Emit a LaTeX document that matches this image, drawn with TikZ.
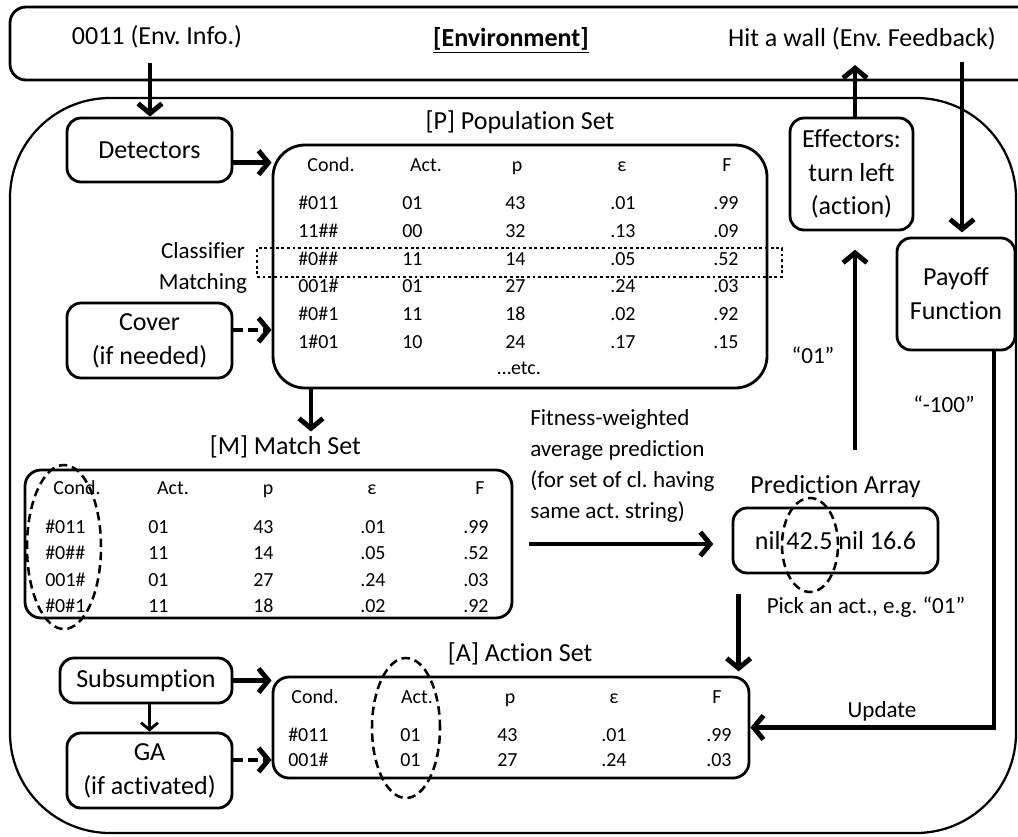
\documentclass[tikz,border=0pt]{standalone}
\usepackage{fontspec}
\setmainfont{Carlito}[Ligatures=NoCommon]
\usetikzlibrary{positioning,arrows.meta,shapes.geometric}
\frenchspacing
\def\px{0.025cm}
\newcommand\bigtxt{\fontsize{18.5pt}{24pt}\selectfont}
\newcommand\midtxt{\fontsize{16.4pt}{22pt}\selectfont}
\newcommand\tabtxt{\fontsize{14.2pt}{17pt}\selectfont}

\begin{document}
\begin{tikzpicture}[x=\px,y=-\px,font=\bigtxt,
	box/.style={draw=black,line width=2pt,rounded corners=0.35cm,align=center,inner sep=0pt,font=\bigtxt},
	tbl/.style={draw=black,line width=2pt,rounded corners=0.4cm,inner sep=0pt},
	lbl/.style={inner sep=0pt,text height=13pt,text depth=4pt},
	cell/.style={anchor=base west,inner sep=0pt,font=\tabtxt},
	hd/.style={anchor=base,inner sep=0pt,font=\tabtxt},
	note/.style={inner sep=0pt,font=\midtxt},
	flow/.style={line width=3.5pt,-{Straight Barb[length=7pt,width=17pt]}},
	maybe/.style={flow,dash pattern=on 7pt off 3.5pt},
	slim/.style={line width=2pt,-{Straight Barb[length=5pt,width=12pt]}},
	ring/.style={ellipse,draw=black,line width=1.8pt,dash pattern=on 6pt off 3.5pt,inner sep=0pt}]
	\fill[white] (0,0) rectangle (1018,836);
	\useasboundingbox (0,0) rectangle (1018,836);

	% environment and agent
	\node [box,rounded corners=0.4cm,minimum width=1030*\px,minimum height=73*\px] (env) at (525,43.5) {};
	\node [anchor=base] (env_info) at (157,44) {0011 (Env. Info.)};
	\node [anchor=base] (env_name) at (511,46) {\underline{\textbf{[Environment]}}};
	\node [anchor=base] (env_fb) at (862,46) {Hit a wall (Env. Feedback)};
	\node [draw=black,line width=1.6pt,rounded corners=2.5cm,minimum width=1006*\px,minimum height=735*\px,inner sep=0pt] (agent) at (513,465.5) {};

	\node [box,minimum width=165*\px,minimum height=64*\px] (det) at (149.5,150) {Detectors};
	\node [box,minimum width=165*\px,minimum height=75*\px] (cover) at (149.5,340.5) {Cover\\(if needed)};
	\node [box,minimum width=172*\px,minimum height=45*\px] (subs) at (146,680.5) {Subsumption};
	\node [box,minimum width=165*\px,minimum height=75*\px] (ga) at (149.5,770.5) {GA\\(if activated)};
	\node [box,minimum width=123*\px,minimum height=112*\px] (eff) at (851.5,174) {Effectors:\\turn left\\(action)};
	\node [box,minimum width=118*\px,minimum height=112*\px] (pay) at (956,294) {Payoff\\Function};

	% population set
	\node [tbl,rounded corners=0.8cm,minimum width=494*\px,minimum height=243*\px] (pop) at (520,266.5) {};
	\node [lbl,above=6pt of pop] (pop_lbl) {[P] Population Set};
	\foreach \t/\x [count=\j] in {Cond./331,Act./426,p/517,ε/622,F/727}
		\node [hd] (pop_h\j) at (\x,171.5) {\t};
	\foreach \cnd/\act/\pr/\er/\fit [count=\i] in {\#011/01/43/.01/.99,11\#\#/00/32/.13/.09,\#0\#\#/11/14/.05/.52,001\#/01/27/.24/.03,\#0\#1/11/18/.02/.92,1\#01/10/24/.17/.15} {
		\pgfmathsetmacro\yy{209.5+(\i-1)*27.8}
		\node [cell] (pop_c\i) at (298,\yy) {\cnd};
		\node [cell] (pop_a\i) at (402,\yy) {\act};
		\node [cell] (pop_p\i) at (505,\yy) {\pr};
		\node [cell] (pop_e\i) at (610,\yy) {\er};
		\node [cell] (pop_f\i) at (713,\yy) {\fit};
	}
	\node [cell] (pop_etc) at (497,374) {…etc.};
	\node [draw=black,line width=2pt,dash pattern=on 2pt off 2pt,minimum width=525*\px,minimum height=29*\px,inner sep=0pt] (pop_hl) at (519.5,262.5) {};
	\node [note,align=center] (hl_lbl) at (203,268) {Classifier\\Matching};

	% match set
	\node [tbl,minimum width=487*\px,minimum height=148*\px] (ms) at (268.5,544) {};
	\node [lbl,above=6pt of ms,xshift=12pt] (ms_lbl) {[M] Match Set};
	\foreach \t/\x [count=\j] in {Cond./77,Act./173,p/268,ε/372,F/480}
		\node [hd] (ms_h\j) at (\x,494.5) {\t};
	\foreach \cnd/\act/\pr/\er/\fit [count=\i] in {\#011/01/43/.01/.99,\#0\#\#/11/14/.05/.52,001\#/01/27/.24/.03,\#0\#1/11/18/.02/.92} {
		\pgfmathsetmacro\yy{533.5+(\i-1)*26.3}
		\node [cell] (ms_c\i) at (45,\yy) {\cnd};
		\node [cell] (ms_a\i) at (148,\yy) {\act};
		\node [cell] (ms_p\i) at (253,\yy) {\pr};
		\node [cell] (ms_e\i) at (360,\yy) {\er};
		\node [cell] (ms_f\i) at (463,\yy) {\fit};
	}
	\node [ring,minimum width=74*\px,minimum height=164*\px] (ms_ring) at (64,547) {};

	% prediction array
	\node [box,minimum width=205*\px,minimum height=65*\px] (pred) at (835.5,540.5) {nil 42.5 nil 16.6};
	\node [lbl,above=5pt of pred] (pred_lbl) {Prediction Array};
	\node [ring,minimum width=56*\px,minimum height=94*\px] (pred_ring) at (810,545) {};
	\node [note,anchor=base] (pick_lbl) at (866,613) {Pick an act., e.g. “01”};

	% action set
	\node [tbl,minimum width=476*\px,minimum height=101*\px] (as) at (511,727.5) {};
	\node [lbl,above=6pt of as,xshift=6.5pt] (as_lbl) {[A] Action Set};
	\foreach \t/\x [count=\j] in {Cond./315,Act./417,p/510,ε/614,F/717}
		\node [hd] (as_h\j) at (\x,703.5) {\t};
	\foreach \cnd/\act/\pr/\er/\fit [count=\i] in {\#011/01/43/.01/.99,001\#/01/27/.24/.03} {
		\pgfmathsetmacro\yy{741.5+(\i-1)*25}
		\node [cell] (as_c\i) at (288,\yy) {\cnd};
		\node [cell] (as_a\i) at (400,\yy) {\act};
		\node [cell] (as_p\i) at (497,\yy) {\pr};
		\node [cell] (as_e\i) at (601,\yy) {\er};
		\node [cell] (as_f\i) at (706,\yy) {\fit};
	}
	\node [ring,minimum width=68*\px,minimum height=140*\px] (as_ring) at (406,728) {};

	% labels on the flows
	\node [note,align=left,anchor=west] (fit_lbl) at (530,466) {Fitness-weighted\\average prediction\\(for set of cl. having\\same act. string)};
	\node [note,anchor=base] (sel_lbl) at (813,363) {“01”};
	\node [note,anchor=base] (pay_lbl) at (944,412) {“-100”};
	\node [note,anchor=base] (upd_lbl) at (882,717) {Update};

	% flows
	\coordinate (env_in) at (150,63);
	\coordinate (env_out) at (855,65);
	\coordinate (env_fbk) at (962,62);
	\coordinate (det_out) at ([yshift=-9pt]det.east);
	\coordinate (cover_out) at ([yshift=7.5pt]cover.east);
	\coordinate (ga_out) at ([yshift=7.5pt]ga.east);
	\coordinate (pop_out) at ([xshift=28pt]pop.south west);
	\coordinate (pred_out) at ([xshift=5pt]pred.south west);
	\coordinate (pay_out) at ([xshift=27pt]pay.south);

	\draw [flow] (env_in) -- (env_in |- det.north);
	\draw [flow] (eff.north -| env_out) -- (env_out);
	\draw [flow,shorten >=3pt] (env_fbk) -- (env_fbk |- pay.north);
	\draw [flow] (det_out) -- (det_out -| pop.west);
	\draw [maybe] (cover_out) -- (cover_out -| pop.west);
	\draw [flow] (subs.east) -- (subs.east -| as.west);
	\draw [maybe] (ga_out) -- (ga_out -| as.west);
	\draw [slim] (ga.north |- subs.south) -- (ga.north);
	\draw [flow,shorten >=3pt] (pop_out) -- (pop_out |- ms_lbl.north);
	\draw [flow,shorten <=11pt,shorten >=13pt] (ms.east) -- (ms.east -| pred.west);
	\draw [flow,shorten <=18pt,shorten >=13pt] (pred_lbl.north -| env_out) -- (eff.south -| env_out);
	\draw [flow,shorten <=14pt,shorten >=3pt] (pred_out) -- (pred_out |- as.north);
	\draw [flow] (pay_out) |- (as.east);
\end{tikzpicture}
\end{document}
